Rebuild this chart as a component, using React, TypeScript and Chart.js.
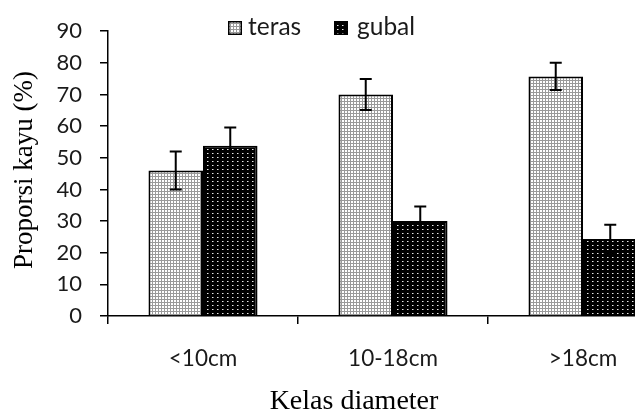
import React, { useEffect, useRef } from 'react';
import { Chart, registerables } from 'chart.js';

Chart.register(...registerables);

const categories = ['<10cm', '10-18cm', '>18cm'];
const seriesNames = ['teras', 'gubal'];
const terasValues = [46, 70, 75.7];
const terasErrors = [6, 4.9, 4.3];
const gubalValues = [53.8, 30, 24.3];
const gubalErrors = [5.8, 4.6, 4.5];
const yMin = 0;
const yMax = 90;
const yStep = 10;
const xTitle = 'Kelas diameter';
const yTitle = 'Proporsi kayu (%)';

const SANS = 'Lato';
const SERIF = 'Liberation Serif';

function makeTerasPattern(ctx: CanvasRenderingContext2D) {
  const c = document.createElement('canvas');
  c.width = 3;
  c.height = 3;
  const g = c.getContext('2d')!;
  g.fillStyle = '#9a9a9a';
  g.fillRect(0, 0, 3, 3);
  g.fillStyle = '#ffffff';
  g.fillRect(0, 0, 2, 2);
  return ctx.createPattern(c, 'repeat')!;
}

function makeGubalPattern(ctx: CanvasRenderingContext2D) {
  const c = document.createElement('canvas');
  c.width = 5;
  c.height = 4;
  const g = c.getContext('2d')!;
  g.fillStyle = '#000000';
  g.fillRect(0, 0, 5, 4);
  g.fillStyle = '#e8e8e8';
  g.fillRect(2, 1, 1, 1);
  g.fillStyle = '#777777';
  g.fillRect(3, 1, 1, 1);
  return ctx.createPattern(c, 'repeat')!;
}

export default function App() {
  const ref = useRef<HTMLCanvasElement | null>(null);

  useEffect(() => {
    const canvas = ref.current!;
    const ctx = canvas.getContext('2d')!;
    const terasPattern = makeTerasPattern(ctx);
    const gubalPattern = makeGubalPattern(ctx);
    const errors = [terasErrors, gubalErrors];
    const patterns = [terasPattern, gubalPattern];

    const errorBars = {
      id: 'errorBars',
      afterDatasetsDraw(chart: any) {
        const c = chart.ctx;
        const ys = chart.scales.y;
        c.save();
        c.strokeStyle = '#000';
        c.lineWidth = 2;
        chart.data.datasets.forEach((ds: any, di: number) => {
          const meta = chart.getDatasetMeta(di);
          meta.data.forEach((bar: any, i: number) => {
            const v = ds.data[i];
            const e = errors[di][i];
            const x = bar.x;
            const yTop = ys.getPixelForValue(v + e);
            const yBot = ys.getPixelForValue(v - e);
            c.beginPath();
            c.moveTo(x, yTop);
            c.lineTo(x, yBot);
            c.moveTo(x - 6, yTop);
            c.lineTo(x + 6, yTop);
            c.moveTo(x - 6, yBot);
            c.lineTo(x + 6, yBot);
            c.stroke();
          });
        });
        c.restore();
      },
    };

    const decorPlugin = {
      id: 'decor',
      afterDraw(chart: any) {
        const c = chart.ctx;
        c.save();
        // legend
        c.font = `24.5px "${SANS}"`;
        c.textBaseline = 'alphabetic';
        c.textAlign = 'left';
        const boxXs = [228, 334];
        const textXs = [248, 357];
        seriesNames.forEach((name, i) => {
          const x = boxXs[i];
          c.fillStyle = patterns[i];
          c.fillRect(x, 21, 14, 14);
          c.strokeStyle = '#000';
          c.lineWidth = 1.5;
          c.strokeRect(x + 0.75, 21.75, 12.5, 12.5);
          c.fillStyle = '#1a1a1a';
          c.fillText(name, textXs[i], 35);
        });
        // axis titles
        c.fillStyle = '#000';
        c.textAlign = 'center';
        c.textBaseline = 'middle';
        c.font = `28px "${SERIF}"`;
        c.fillText(xTitle, 354, 402);
        c.translate(24.5, 170);
        c.rotate(-Math.PI / 2);
        c.font = `27px "${SERIF}"`;
        c.fillText(yTitle, 0, 0);
        c.restore();
      },
    };

    const chart = new Chart(canvas, {
      type: 'bar',
      data: {
        labels: categories,
        datasets: [
          {
            label: seriesNames[0],
            data: terasValues,
            backgroundColor: terasPattern,
            borderColor: '#000',
            borderWidth: 2,
            borderSkipped: 'start',
            categoryPercentage: 0.574,
            barPercentage: 1,
          },
          {
            label: seriesNames[1],
            data: gubalValues,
            backgroundColor: gubalPattern,
            borderColor: '#000',
            borderWidth: 2,
            borderSkipped: 'start',
            categoryPercentage: 0.574,
            barPercentage: 1,
          },
        ],
      },
      options: {
        responsive: false,
        animation: false,
        events: [],
        layout: { padding: { left: 0, right: 22, top: 16, bottom: 0 } },
        plugins: {
          legend: { display: false },
          tooltip: { enabled: false },
        },
        scales: {
          x: {
            grid: {
              offset: true,
              drawOnChartArea: false,
              drawTicks: true,
              tickLength: 8,
              color: '#000',
              lineWidth: 1.5,
            },
            border: { color: '#000', width: 1.5 },
            ticks: {
              color: '#1a1a1a',
              font: { family: SANS, size: 22.5 },
              padding: 21,
              maxRotation: 0,
            },
            afterFit: (s: any) => {
              s.height = 101;
            },
          },
          y: {
            min: yMin,
            max: yMax,
            ticks: {
              stepSize: yStep,
              color: '#1a1a1a',
              font: { family: SANS, size: 22 },
              padding: 18,
            },
            grid: {
              drawOnChartArea: false,
              drawTicks: true,
              tickLength: 8,
              color: '#000',
              lineWidth: 1.5,
            },
            border: { color: '#000', width: 1.5 },
            afterFit: (s: any) => {
              s.width = 108;
            },
          },
        },
      },
      plugins: [errorBars, decorPlugin],
    });
    return () => chart.destroy();
  }, []);

  return (
    <div
      style={{
        position: 'absolute',
        left: 0,
        top: 0,
        width: 635,
        height: 417,
        overflow: 'hidden',
        background: '#fff',
      }}
    >
      <canvas ref={ref} width={700} height={417} style={{ display: 'block' }} />
    </div>
  );
}
